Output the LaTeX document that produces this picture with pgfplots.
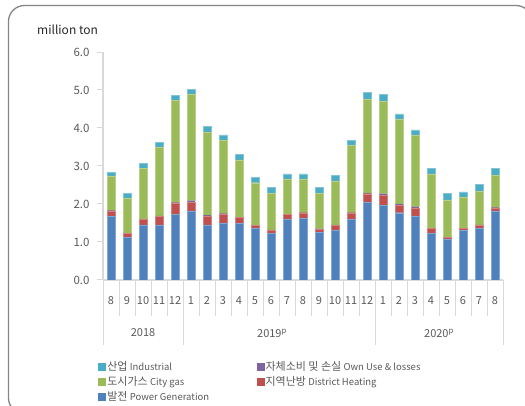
\documentclass[border=0pt]{standalone}
\usepackage{pgfplots}
\usepackage{pgfplotstable}
\pgfplotsset{compat=1.18}
\usepackage{fontspec}
\setmainfont{Noto Sans CJK KR}
\definecolor{cPow}{HTML}{4F81BD}
\definecolor{cDH}{HTML}{C0504D}
\definecolor{cOwn}{HTML}{8064A2}
\definecolor{cGas}{HTML}{9BBB59}
\definecolor{cInd}{HTML}{4BACC6}
\definecolor{axc}{HTML}{D9D9D9}
\definecolor{txc}{HTML}{595959}
\definecolor{frc}{HTML}{858585}
\pgfplotstableread{
x pow dh own gas ind
0 1.68 0.14 0.01 0.91 0.10
1 1.12 0.10 0.01 0.91 0.14
2 1.45 0.14 0.01 1.33 0.14
3 1.45 0.23 0.01 1.80 0.14
4 1.73 0.28 0.03 2.68 0.13
5 1.82 0.23 0.04 2.79 0.14
6 1.45 0.23 0.03 2.19 0.15
7 1.49 0.24 0.02 1.92 0.15
8 1.49 0.15 0.01 1.51 0.15
9 1.35 0.08 0.01 1.12 0.14
10 1.23 0.08 0.01 0.96 0.15
11 1.59 0.13 0.01 0.93 0.13
12 1.63 0.14 0.01 0.88 0.13
13 1.25 0.09 0.01 0.93 0.15
14 1.31 0.13 0.01 1.16 0.14
15 1.59 0.18 0.01 1.76 0.14
16 2.04 0.23 0.02 2.46 0.18
17 1.96 0.27 0.04 2.44 0.18
18 1.77 0.19 0.04 2.22 0.15
19 1.68 0.22 0.03 1.87 0.15
20 1.23 0.12 0.01 1.43 0.14
21 1.08 0.04 0.01 0.98 0.17
22 1.31 0.04 0.01 0.83 0.13
23 1.36 0.08 0.01 0.88 0.19
24 1.82 0.08 0.01 0.84 0.18
}\data
\newcommand\ko[1]{{\fontsize{11}{12}\selectfont #1}}
\newcommand\la[1]{{\fontsize{9.5}{11}\selectfont #1}}
\begin{document}
\begin{tikzpicture}[x=1pt,y=1pt]
\useasboundingbox (0,0) rectangle (525,406);
\draw[frc, line width=1.3pt, rounded corners=16pt] (8.5,-8) rectangle (532,400.5);
\node[anchor=base west, inner sep=0pt, text=black!85, font=\fontsize{12}{14}\selectfont] at (37,371) {million ton};
\begin{axis}[
  at={(103pt,126pt)}, anchor=south west,
  scale only axis, width=400pt, height=228pt,
  ybar stacked, bar width=7.5pt,
  xmin=-0.5, xmax=24.5, ymin=0, ymax=6,
  axis lines*=left,
  axis line style={draw=axc, line width=1.2pt},
  ytick={0,1,2,3,4,5,6},
  tick align=outside, major tick length=6pt,
  y tick style={draw=axc, line width=1pt},
  yticklabel style={/pgf/number format/.cd, fixed, fixed zerofill, precision=1, /tikz/.cd, text=txc, font=\fontsize{11.5}{13}\selectfont, xshift=-4pt},
  /pgf/number format/assume math mode=true,
  xtick={0,...,24},
  xticklabels={8,9,10,11,12,1,2,3,4,5,6,7,8,9,10,11,12,1,2,3,4,5,6,7,8},
  x tick style={draw=none},
  xticklabel style={text=txc, font=\fontsize{11}{13}\selectfont, anchor=center, yshift=-15pt},
  legend columns=2,
  legend cell align=left,
  legend style={at={(axis description cs:-0.012,-0.345)}, anchor=north west, draw=none, fill=none,
    inner sep=0pt, text=txc,
    nodes={inner xsep=1.5pt, inner ysep=0pt, minimum height=15pt},
    /tikz/every even column/.append style={column sep=46pt}},
]
\addlegendimage{legend image code/.code={\fill[cInd] (0pt,-3.5pt) rectangle (7pt,3.5pt);}}
\addlegendentry{\ko{산업} \la{Industrial}}
\addlegendimage{legend image code/.code={\fill[cOwn] (0pt,-3.5pt) rectangle (7pt,3.5pt);}}
\addlegendentry{\ko{자체소비 및 손실} \la{Own Use \& losses}}
\addlegendimage{legend image code/.code={\fill[cGas] (0pt,-3.5pt) rectangle (7pt,3.5pt);}}
\addlegendentry{\ko{도시가스} \la{City gas}}
\addlegendimage{legend image code/.code={\fill[cDH] (0pt,-3.5pt) rectangle (7pt,3.5pt);}}
\addlegendentry{\ko{지역난방} \la{District Heating}}
\addlegendimage{legend image code/.code={\fill[cPow] (0pt,-3.5pt) rectangle (7pt,3.5pt);}}
\addlegendentry{\ko{발전} \la{Power Generation}}
\addplot[fill=cPow, draw=cPow!70!white, line width=0.4pt] table[x=x,y=pow]{\data};
\addplot[fill=cDH, draw=cDH!70!white, line width=0.4pt] table[x=x,y=dh]{\data};
\addplot[fill=cOwn, draw=none] table[x=x,y=own]{\data};
\addplot[fill=cGas, draw=cGas!70!white, line width=0.4pt] table[x=x,y=gas]{\data};
\addplot[fill=cInd, draw=cInd!70!white, line width=0.4pt] table[x=x,y=ind]{\data};
\end{axis}
\foreach \i in {1,...,24} \draw[axc, line width=1pt] (103+16*\i,126) -- (103+16*\i,90);
\foreach \i in {0,5,17,25} \draw[axc, line width=1pt] (103+16*\i,126) -- (103+16*\i,61);
\begin{scope}[every node/.style={text=txc, font=\fontsize{11}{13}\selectfont, inner sep=0pt}]
\node at (143,73) {2018};
\node at (272,73) {2019\textsuperscript{p}};
\node at (439,73) {2020\textsuperscript{p}};
\end{scope}
\end{tikzpicture}
\end{document}
